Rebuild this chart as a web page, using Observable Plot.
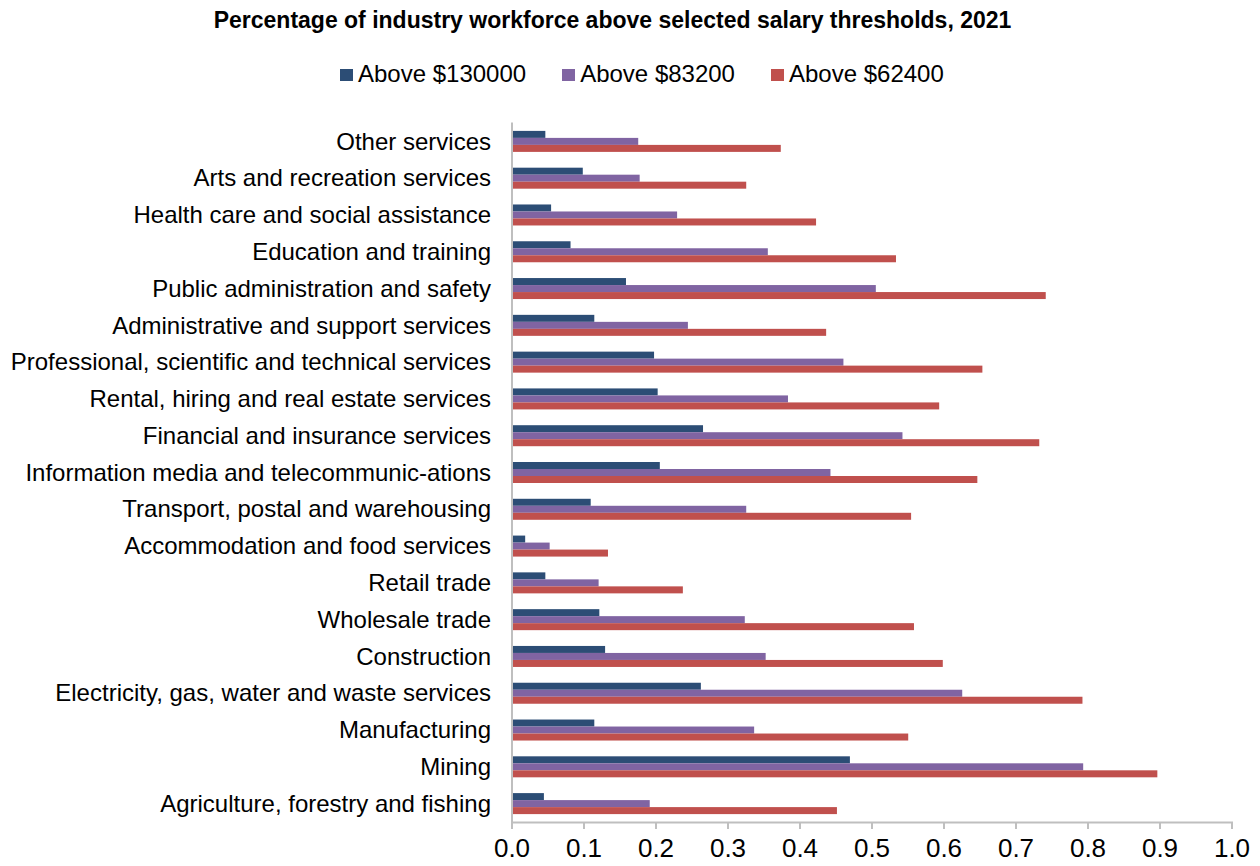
<!DOCTYPE html>
<html>
<head>
<meta charset="utf-8">
<script src="https://cdn.jsdelivr.net/npm/d3@7"></script>
<script src="https://cdn.jsdelivr.net/npm/@observablehq/plot@0.6"></script>
<style>
  html, body { margin: 0; padding: 0; background: #fff; }
  body { width: 1260px; height: 866px; position: relative; overflow: hidden; font-family: "Liberation Sans", Arial, sans-serif; }
  #title { position: absolute; left: 0; width: 1225px; top: 8.5px; text-align: center; font-weight: bold; font-size: 23px; line-height: 23px; color: #000; white-space: nowrap; }
  #legend { position: absolute; left: 340px; top: 61.7px; display: flex; align-items: center; font-size: 24px; line-height: 24px; color: #000; white-space: nowrap; }
  .item { display: flex; align-items: center; margin-right: 36px; }
  .sw { width: 13px; height: 12px; margin-right: 5px; margin-top: 2px; }
  #chart { position: absolute; left: 0; top: 100px; }
</style>
</head>
<body>
<div id="title"></div>
<div id="legend"></div>
<div id="chart"></div>
<script>
const titleText = "Percentage of industry workforce above selected salary thresholds, 2021";
const industries = [
  "Agriculture, forestry and fishing",
  "Mining",
  "Manufacturing",
  "Electricity, gas, water and waste services",
  "Construction",
  "Wholesale trade",
  "Retail trade",
  "Accommodation and food services",
  "Transport, postal and warehousing",
  "Information media and telecommunic-ations",
  "Financial and insurance services",
  "Rental, hiring and real estate services",
  "Professional, scientific and technical services",
  "Administrative and support services",
  "Public administration and safety",
  "Education and training",
  "Health care and social assistance",
  "Arts and recreation services",
  "Other services"
];
const seriesNames = ["Above $130000", "Above $83200", "Above $62400"];
const seriesColors = ["#2C4D75", "#8064A2", "#C0504D"];
const above130000 = [0.045, 0.470, 0.115, 0.263, 0.130, 0.122, 0.047, 0.019, 0.110, 0.206, 0.266, 0.203, 0.198, 0.115, 0.159, 0.082, 0.055, 0.099, 0.047];
const above83200  = [0.192, 0.794, 0.337, 0.626, 0.353, 0.324, 0.121, 0.053, 0.326, 0.443, 0.543, 0.384, 0.461, 0.245, 0.506, 0.356, 0.230, 0.178, 0.176];
const above62400  = [0.452, 0.897, 0.551, 0.793, 0.599, 0.559, 0.238, 0.134, 0.555, 0.647, 0.733, 0.594, 0.654, 0.437, 0.742, 0.534, 0.423, 0.326, 0.374];
const xTicks = [0, 0.1, 0.2, 0.3, 0.4, 0.5, 0.6, 0.7, 0.8, 0.9, 1.0];

document.getElementById("title").textContent = titleText;
const legend = document.getElementById("legend");
seriesNames.forEach((n, i) => {
  const it = document.createElement("div"); it.className = "item";
  const sw = document.createElement("div"); sw.className = "sw"; sw.style.background = seriesColors[i];
  const tx = document.createElement("span"); tx.textContent = n;
  it.appendChild(sw); it.appendChild(tx); legend.appendChild(it);
});

const seriesValues = [above130000, above83200, above62400];
const tables = seriesValues.map((vals, s) => industries.map((ind, i) => ({industry: ind, value: vals[i], series: seriesNames[s]})));

const barH = 7;
const bandH = 699 / industries.length;
const inset = (bandH - barH) / 2;

const chart = Plot.plot({
  width: 1260,
  height: 766,
  marginTop: 23,
  marginBottom: 44,
  marginLeft: 511.5,
  marginRight: 28.5,
  style: { fontFamily: "'Liberation Sans', Arial, sans-serif", background: "#fff", color: "#000" },
  x: { domain: [0, 1], axis: null, label: null },
  y: { domain: industries.slice().reverse(), padding: 0, round: false, axis: null, label: null },
  marks: [
    ...tables.map((t, s) => Plot.barX(t, {
      x: "value", y: "industry", fill: seriesColors[s],
      insetTop: inset, insetBottom: inset, dy: (s - 1) * barH
    })),
    Plot.frame({anchor: "left", stroke: "#BFBFBF", strokeWidth: 2}),
    Plot.frame({anchor: "bottom", stroke: "#BFBFBF", strokeWidth: 2}),
    Plot.axisX({ticks: xTicks, tickSize: 7, color: "#BFBFBF", strokeWidth: 2, tickFormat: () => "", label: null}),
    Plot.axisX({ticks: xTicks, tickSize: 0, tickPadding: 16, tickFormat: d3.format(".1f"), fontSize: 26, color: "#000", label: null}),
    Plot.axisY({tickSize: 0, tickPadding: 21, fontSize: 24, color: "#000", label: null})
  ]
});
document.getElementById("chart").appendChild(chart);
</script>
</body>
</html>
